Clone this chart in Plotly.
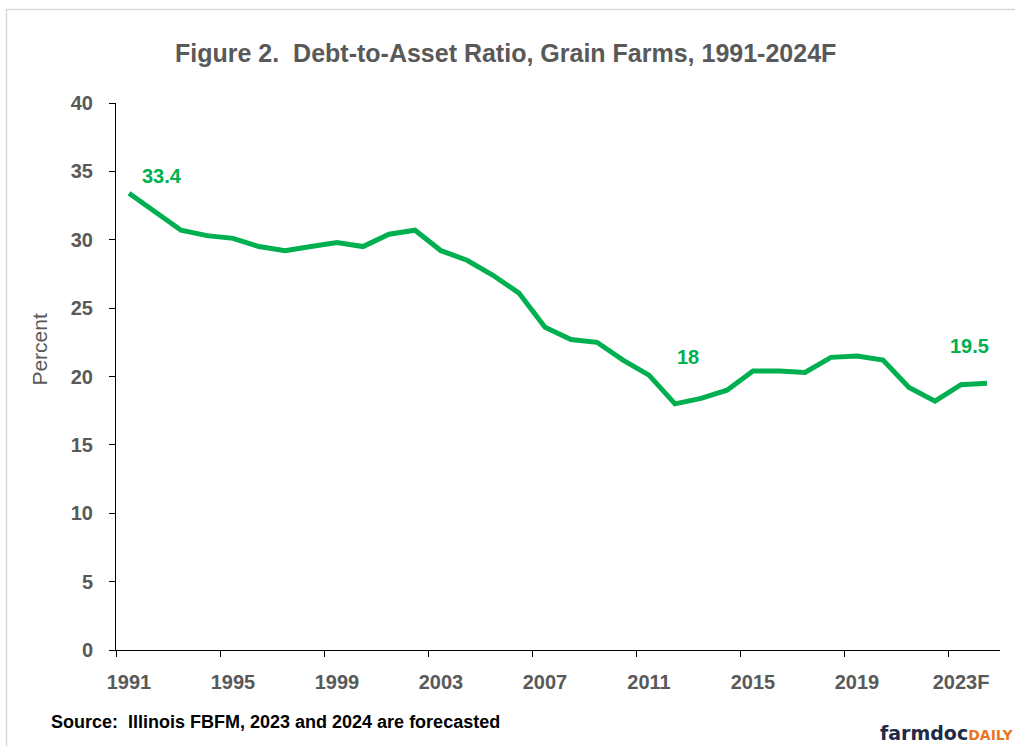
import plotly.graph_objects as go

# ---- data ----
categories = [str(y) for y in range(1991, 2023)] + ["2023F", "2024F"]
debt_to_asset = [33.4, 32.0, 30.7, 30.3, 30.1, 29.5, 29.2, 29.5, 29.8, 29.5,
                 30.4, 30.7, 29.2, 28.5, 27.4, 26.1, 23.6, 22.7, 22.5, 21.2,
                 20.1, 18.0, 18.4, 19.0, 20.4, 20.4, 20.3, 21.4, 21.5, 21.2,
                 19.2, 18.2, 19.4, 19.5]
label_categories = ["1991", "2012", "2024F"]
label_texts = ["33.4", "18", "19.5"]
tick_labels = ["1991", "1995", "1999", "2003", "2007", "2011", "2015", "2019", "2023F"]
y_ticks = [0, 5, 10, 15, 20, 25, 30, 35, 40]

GREEN = "#00B050"
GRAY = "#595959"
FONT = "Liberation Sans"

x_pos = list(range(len(categories)))
cat_index = {c: i for i, c in enumerate(categories)}

fig = go.Figure()
fig.add_trace(go.Scatter(
    x=x_pos, y=debt_to_asset, mode="lines",
    line=dict(color=GREEN, width=5),
    hoverinfo="skip", showlegend=False,
))

# data labels
shifts = {"1991": (33, 17), "2012": (13, 47), "2024F": (-18, 37)}
for c, t in zip(label_categories, label_texts):
    i = cat_index[c]
    dx, dy = shifts[c]
    fig.add_annotation(x=x_pos[i], y=debt_to_asset[i], text=t, showarrow=False,
                       xshift=dx, yshift=dy,
                       font=dict(family=FONT, size=20, color=GREEN, weight="bold"))

fig.update_layout(
    width=1015, height=746,
    margin=dict(l=116, r=15, t=103, b=96),
    paper_bgcolor="white", plot_bgcolor="white",
    showlegend=False,
    xaxis=dict(
        range=[-0.5, len(categories) - 0.5],
        tickmode="array",
        tickvals=[cat_index[t] for t in tick_labels],
        ticktext=tick_labels,
        ticks="",
        showgrid=False, zeroline=False,
        showline=True, linecolor="black", linewidth=1,
        tickfont=dict(family=FONT, size=20, color=GRAY, weight="bold"),
        ticklabelstandoff=14,
        minor=dict(tickmode="linear", tick0=-0.5, dtick=4, ticks="outside",
                   ticklen=6, tickcolor="black", tickwidth=1, showgrid=False),
        fixedrange=True,
    ),
    yaxis=dict(
        range=[0, 40],
        tickmode="array", tickvals=y_ticks,
        ticks="outside", ticklen=6, tickcolor="black", tickwidth=1,
        showgrid=False, zeroline=False,
        showline=True, linecolor="black", linewidth=1,
        tickfont=dict(family=FONT, size=20, color=GRAY, weight="bold"),
        ticklabelstandoff=12,
        fixedrange=True,
    ),
)

# title
fig.add_annotation(xref="paper", yref="paper", x=0.4406, y=1.0905,
                   xanchor="center", yanchor="middle", showarrow=False,
                   text="Figure 2.  Debt-to-Asset Ratio, Grain Farms, 1991-2024F",
                   font=dict(family=FONT, size=25, color=GRAY, weight="bold"))
# y axis title
fig.add_annotation(xref="paper", yref="paper", x=-0.086, y=0.551,
                   xanchor="center", yanchor="middle", showarrow=False,
                   textangle=-90, text="Percent",
                   font=dict(family=FONT, size=21, color=GRAY))
# source
fig.add_annotation(xref="paper", yref="paper", x=-0.0758, y=-0.1316,
                   xanchor="left", yanchor="middle", showarrow=False,
                   text="Source:  Illinois FBFM, 2023 and 2024 are forecasted",
                   font=dict(family=FONT, size=18, color="black", weight="bold"))
# logo
fig.add_annotation(xref="paper", yref="paper", x=0.8615, y=-0.1517,
                   xanchor="left", yanchor="middle", showarrow=False,
                   text="farmdoc<span style='color:#E87722;font-size:14px;font-weight:900'>DAILY</span>",
                   font=dict(family="DejaVu Sans", size=19, color="#1F2A48", weight="bold"))
# outer border
fig.add_shape(type="rect", xref="paper", yref="paper",
              x0=-0.1239, y0=-0.3, x1=1.05, y1=1.1709,
              line=dict(color="#D9D9D9", width=1.5), fillcolor="rgba(0,0,0,0)",
              layer="below")

fig.write_html("out.html", config={"displayModeBar": False},
               post_script="document.body.style.margin='0';document.body.style.padding='0';")
